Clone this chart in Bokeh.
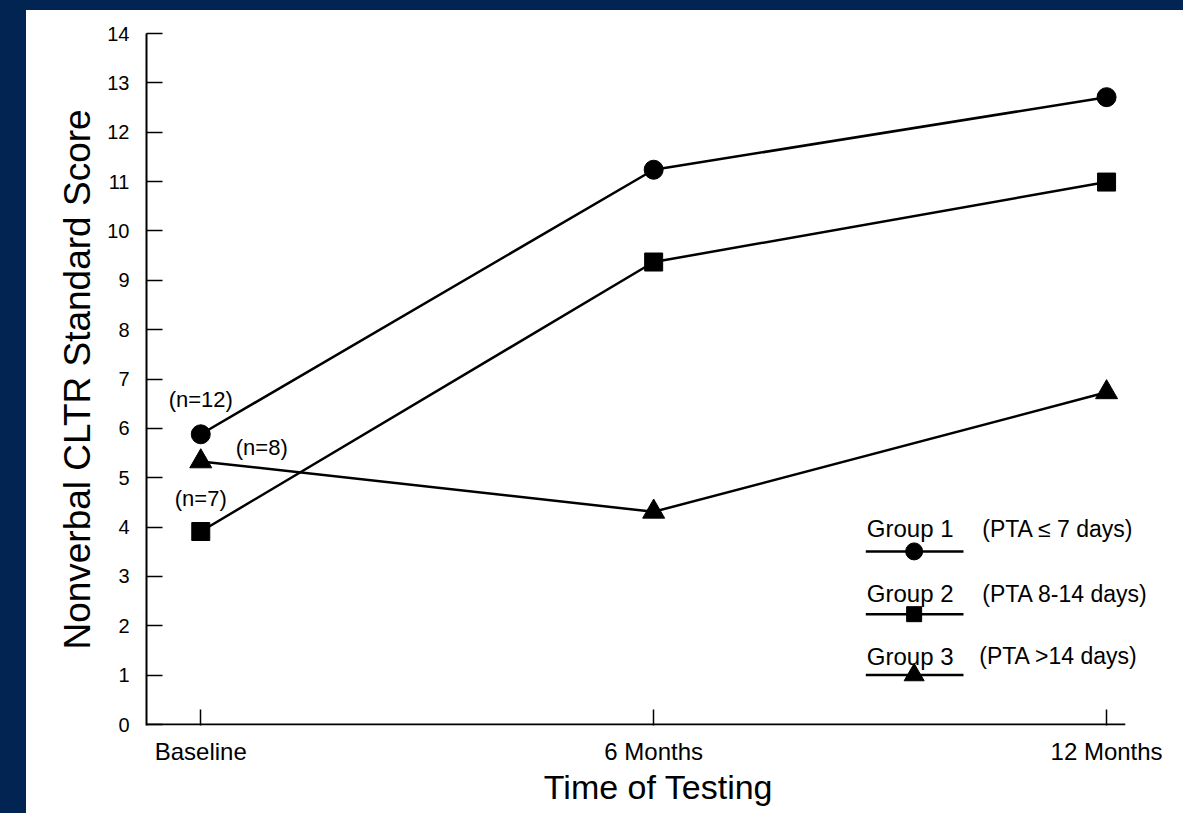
from bokeh.plotting import figure
from bokeh.layouts import column
from bokeh.models import Range1d, FixedTicker, ColumnDataSource
from bokeh.core.properties import value
from bokeh.embed import file_html
from bokeh.resources import INLINE

# ---------------- data ----------------
time_points = [0, 6, 12]
time_labels = ["Baseline", "6 Months", "12 Months"]
group1 = [5.88, 11.24, 12.71]
group2 = [3.91, 9.37, 10.99]
group3 = [5.33, 4.31, 6.73]
group_names = ["Group 1", "Group 2", "Group 3"]
group_desc = ["(PTA \u2264 7 days)", "(PTA 8-14 days)", "(PTA >14 days)"]
n_labels = ["(n=12)", "(n=7)", "(n=8)"]
y_ticks = list(range(0, 15))

NAVY = "#012452"
FONT = "Liberation Sans"

X_START, AXIS_END, X_END = -0.719, 12.248, 12.847

p = figure(width=1157, height=803,
           x_range=Range1d(X_START, X_END), y_range=Range1d(-0.02, 14),
           min_border_left=120, min_border_right=13,
           min_border_top=23, min_border_bottom=88,
           toolbar_location=None, output_backend="svg",
           border_fill_color="white", background_fill_color="white",
           styles={"background-color": "white"})
p.outline_line_color = None

p.grid.visible = False

# axes
xa = p.xaxis[0]
xa.ticker = FixedTicker(ticks=time_points)
xa.major_label_overrides = {t: l for t, l in zip(time_points, time_labels)}
xa.major_tick_in = 16
xa.major_tick_out = 0
xa.minor_tick_line_color = None
xa.axis_line_color = None
xa.major_tick_line_width = 1.5
xa.major_label_text_font = FONT
xa.major_label_text_font_size = "24px"
xa.major_label_text_color = "black"
xa.major_label_standoff = 12
xa.axis_label = "Time of Testing"
xa.axis_label_text_font = FONT
xa.axis_label_text_font_style = "normal"
xa.axis_label_text_font_size = "34px"
xa.axis_label_text_color = "black"
xa.axis_label_standoff = 0

ya = p.yaxis[0]
ya.ticker = FixedTicker(ticks=y_ticks)
ya.major_tick_in = 16
ya.major_tick_out = 0
ya.minor_tick_line_color = None
ya.axis_line_width = 2
ya.major_tick_line_width = 1.5
ya.major_label_text_font = FONT
ya.major_label_text_font_size = "20px"
ya.major_label_text_color = "black"
ya.major_label_standoff = 17
ya.axis_label = "Nonverbal CLTR Standard Score"
ya.axis_label_text_font = FONT
ya.axis_label_text_font_style = "normal"
ya.axis_label_text_font_size = "37px"
ya.axis_label_text_color = "black"
ya.axis_label_standoff = 6

# x axis baseline (stops short of the legend area, as in the original)
p.segment(x0=[X_START], y0=[0], x1=[AXIS_END], y1=[0], line_width=2, line_color="black")

# series
for ys in (group1, group2, group3):
    p.line(time_points, ys, line_width=2.5, line_color="black")
p.scatter(time_points, group1, marker="circle", size=19, color="black")
p.scatter(time_points, group2, marker="square", size=18, color="black")
p.scatter(time_points, group3, marker="triangle", size=22, color="black")

# sample-size annotations next to the baseline points
ann = ColumnDataSource(dict(
    x=[time_points[0]] * 3,
    y=[group1[0], group2[0], group3[0]],
    text=n_labels,
    xo=[0, 0, 61],
    yo=[-35, -33, -14],
))
p.text(x="x", y="y", text="text", source=ann, x_offset="xo", y_offset="yo",
       text_font=value(FONT), text_font_size="22px", text_color="black",
       text_align="center", text_baseline="middle")

# hand-drawn legend (positions in the original image's pixel space)
p.extra_x_ranges = {"px": Range1d(148, 148 + 1024 / 0.9867)}
p.extra_y_ranges = {"py": Range1d(739.5, 34)}
leg_text_x = 878
leg_line_x = (877, 976)
leg_marker_x = 926
leg_desc_x = [995, 995, 992]
leg_line_y = [562, 626, 688]
leg_text_y = [539, 605, 669]
markers = ["circle", "square", "triangle"]
msizes = [17, 15, 20]

for i in range(3):
    p.segment(x0=[leg_line_x[0]], y0=[leg_line_y[i]], x1=[leg_line_x[1]], y1=[leg_line_y[i]],
              line_width=2.5, line_color="black",
              x_range_name="px", y_range_name="py")
    p.scatter([leg_marker_x], [leg_line_y[i]], marker=markers[i], size=msizes[i],
              color="black", x_range_name="px", y_range_name="py")
    p.text(x=[leg_text_x], y=[leg_text_y[i]], text=[group_names[i]],
           text_font=value(FONT), text_font_size="24px", text_color="black",
           text_align="left", text_baseline="middle",
           x_range_name="px", y_range_name="py")
    p.text(x=[leg_desc_x[i]], y=[leg_text_y[i]], text=[group_desc[i]],
           text_font=value(FONT), text_font_size="23px", text_color="black",
           text_align="left", text_baseline="middle",
           x_range_name="px", y_range_name="py")

layout = column(p, styles={"background-color": NAVY,
                           "padding-left": "26px", "padding-top": "10px"})

open("out.html", "w").write(file_html(layout, INLINE))
